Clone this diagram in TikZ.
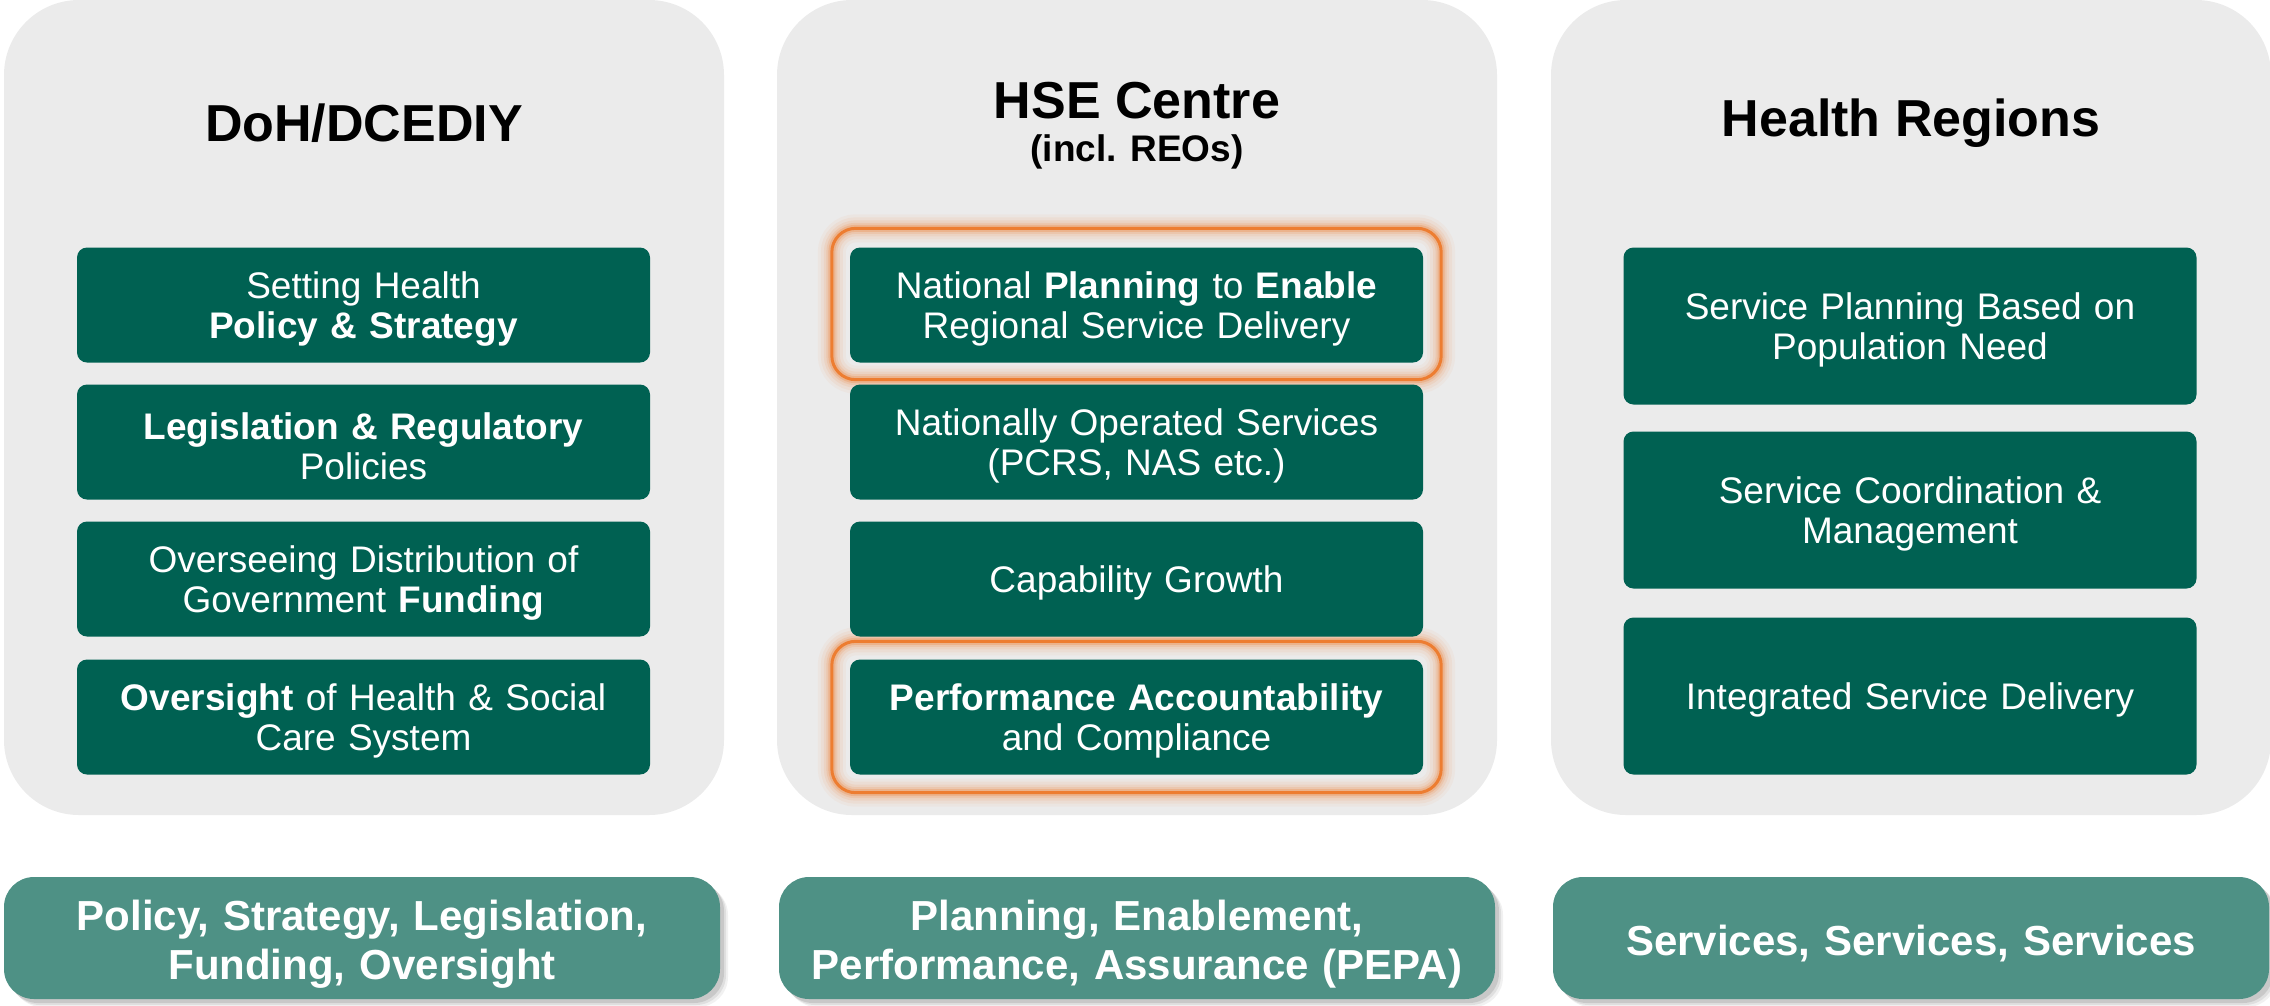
\documentclass[tikz,border=0pt]{standalone}
\usepackage{fontspec}
\setmainfont{Liberation Sans}
\definecolor{panelgray}{RGB}{235,235,235}
\definecolor{deepgreen}{RGB}{0,97,82}
\definecolor{summarygreen}{RGB}{78,145,133}
\definecolor{glowline}{RGB}{237,125,49}
\definecolor{shadowgray}{RGB}{120,120,120}

\tikzset{
  panel/.style={fill=panelgray, rounded corners=75pt, minimum width=720pt,
    minimum height=815pt, inner sep=0pt},
  heading/.style={font=\fontsize{52}{56}\selectfont\bfseries, align=center, inner sep=0pt},
  subheading/.style={font=\fontsize{37}{40}\selectfont\bfseries, align=center, inner sep=0pt},
  rolebox/.style={fill=deepgreen, rounded corners=10pt,
    minimum width=573pt, minimum height=115pt, inner sep=0pt},
  tallbox/.style={rolebox, minimum height=157pt},
  roletext/.style={text=white, text width=560pt, align=center, inner sep=0pt,
    font=\fontsize{37}{40}\selectfont, yshift=-4pt},
  summary/.style={fill=summarygreen, rounded corners=30pt,
    minimum width=716pt, minimum height=122pt, inner sep=0pt},
  summarytext/.style={text=white, text width=690pt, align=center, inner sep=0pt,
    font=\fontsize{42}{49}\selectfont\bfseries, yshift=-6pt},
  glowframe/.style={rounded corners=24pt, minimum width=609pt,
    minimum height=151pt, inner sep=0pt}
}

\begin{document}
\begin{tikzpicture}[x=1pt,y=-1pt]
\useasboundingbox (0,0) rectangle (2270,1005);

% background panels
\node[panel] (doh) at (364,407.5) {};
\node[panel] (hse) at (1137,407.5) {};
\node[panel] (reg) at (1911,407.5) {};

% panel headings
\node[heading] (dohtitle) at (364,123) {DoH/DCEDIY};
\node[heading] (hsetitle) at (1137,101) {HSE Centre};
\node[subheading] (hsesub) at (1137,152) {(incl. REOs)};
\node[heading] (regtitle) at (1911,123) {Health Regions};

% highlight glow around two HSE functions
\foreach \cy/\nm in {304/glowA, 717/glowB}{
  \node[glowframe] (\nm) at (1136.5,\cy) {};
  \foreach \w/\o in {28/0.05, 22/0.07, 16/0.10, 11/0.15, 7/0.25}{
    \draw[glowline, line width=\w pt, opacity=\o, rounded corners=24pt]
      (\nm.north west) rectangle (\nm.south east);
  }
  \draw[glowline, line width=3pt, rounded corners=24pt]
    (\nm.north west) rectangle (\nm.south east);
}

% DoH/DCEDIY functions
\node[rolebox] (d1) at (363.5,305) {};
\node[rolebox] (d2) at (363.5,442) {};
\node[rolebox] (d3) at (363.5,579) {};
\node[rolebox] (d4) at (363.5,717) {};
\node[roletext] (d1t) at (d1) {Setting Health\\\textbf{Policy \& Strategy}};
\node[roletext] (d2t) at (d2) {\textbf{Legislation \& Regulatory}\\Policies};
\node[roletext] (d3t) at (d3) {Overseeing Distribution of\\Government \textbf{Funding}};
\node[roletext] (d4t) at (d4) {\textbf{Oversight} of Health \& Social\\Care System};

% HSE Centre functions
\node[rolebox] (h1) at (1136.5,305) {};
\node[rolebox] (h2) at (1136.5,442) {};
\node[rolebox] (h3) at (1136.5,579) {};
\node[rolebox] (h4) at (1136.5,717) {};
\node[roletext] (h1t) at (h1) {National \textbf{Planning} to \textbf{Enable}\\Regional Service Delivery};
\node[roletext] (h2t) at (h2) {Nationally Operated Services\\(PCRS, NAS etc.)};
\node[roletext] (h3t) at (h3) {Capability Growth};
\node[roletext] (h4t) at (h4) {\textbf{Performance Accountability}\\and Compliance};

% Health Regions functions
\node[tallbox] (r1) at (1910,326) {};
\node[tallbox] (r2) at (1910,510) {};
\node[tallbox] (r3) at (1910,696) {};
\node[roletext] (r1t) at (r1) {Service Planning Based on\\Population Need};
\node[roletext] (r2t) at (r2) {Service Coordination \&\\Management};
\node[roletext] (r3t) at (r3) {Integrated Service Delivery};

% summary bars with soft shadows
\foreach \cx in {362, 1137, 1911}{
  \foreach \d/\o in {8/0.10, 6/0.15, 4/0.22}{
    \fill[shadowgray, opacity=\o, rounded corners=30pt]
      (\cx-358+\d,877+\d) rectangle (\cx+358+\d,999+\d);
  }
}
\node[summary] (sumA) at (362,938) {};
\node[summary] (sumB) at (1137,938) {};
\node[summary] (sumC) at (1911,938) {};
\node[summarytext] (sumAt) at (sumA) {Policy, Strategy, Legislation,\\Funding, Oversight};
\node[summarytext] (sumBt) at (sumB) {Planning, Enablement,\\Performance, Assurance (PEPA)};
\node[summarytext] (sumCt) at (sumC) {Services, Services, Services};
\end{tikzpicture}
\end{document}
